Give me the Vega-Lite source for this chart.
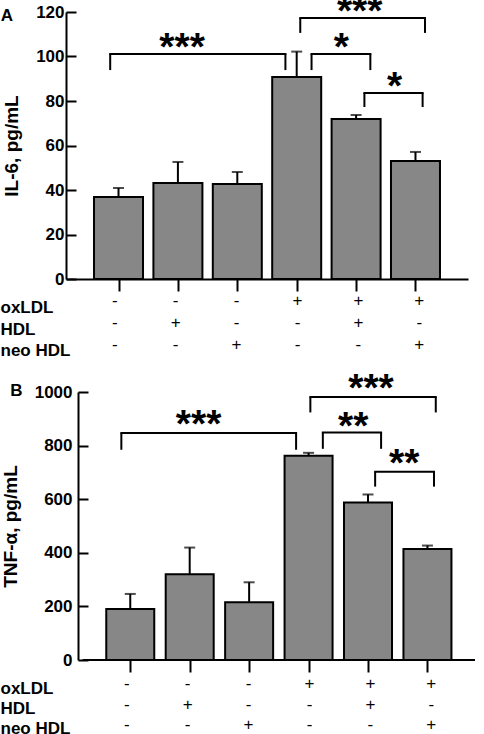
{
  "$schema": "https://vega.github.io/schema/vega-lite/v6.json",
  "padding": {"top": -7, "left": 0, "right": 0, "bottom": 0},
  "background": "white",
  "config": {
    "view": {"stroke": null},
    "font": "Liberation Sans",
    "axis": {"grid": false, "domainColor": "black", "tickColor": "black", "labelColor": "black", "titleColor": "black", "domainWidth": 2, "tickWidth": 2}
  },
  "datasets": {
    "bars": [
      {"panel": "A", "group": 1, "value": 36.9, "upper": 40.9},
      {"panel": "A", "group": 2, "value": 43.1, "upper": 52.6},
      {"panel": "A", "group": 3, "value": 42.7, "upper": 48.1},
      {"panel": "A", "group": 4, "value": 90.8, "upper": 102.2},
      {"panel": "A", "group": 5, "value": 71.9, "upper": 73.7},
      {"panel": "A", "group": 6, "value": 53.0, "upper": 57.1},
      {"panel": "B", "group": 1, "value": 190.5, "upper": 246.5},
      {"panel": "B", "group": 2, "value": 320, "upper": 419.5},
      {"panel": "B", "group": 3, "value": 215.5, "upper": 290},
      {"panel": "B", "group": 4, "value": 762, "upper": 773},
      {"panel": "B", "group": 5, "value": 587.6, "upper": 617.6},
      {"panel": "B", "group": 6, "value": 414.6, "upper": 427}
    ],
    "brackets": [
      {"panel": "A", "x1": 0.86, "x2": 3.81, "ytop": 101.1, "ybot": 93.9, "stars": "***", "lx": 2.07, "ly": 106},
      {"panel": "A", "x1": 4.06, "x2": 6.16, "ytop": 117.3, "ybot": 110.6, "stars": "***", "lx": 5.06, "ly": 122.2},
      {"panel": "A", "x1": 4.25, "x2": 5.24, "ytop": 101.1, "ybot": 93.9, "stars": "*", "lx": 4.75, "ly": 106},
      {"panel": "A", "x1": 5.14, "x2": 6.12, "ytop": 83.6, "ybot": 77.3, "stars": "*", "lx": 5.65, "ly": 88.6},
      {"panel": "B", "x1": 0.85, "x2": 3.79, "ytop": 846.8, "ybot": 784.5, "stars": "***", "lx": 2.15, "ly": 896.5},
      {"panel": "B", "x1": 4.03, "x2": 6.14, "ytop": 981, "ybot": 923.8, "stars": "***", "lx": 5.05, "ly": 1031},
      {"panel": "B", "x1": 4.24, "x2": 5.22, "ytop": 849, "ybot": 788, "stars": "**", "lx": 4.75, "ly": 888},
      {"panel": "B", "x1": 5.12, "x2": 6.11, "ytop": 702, "ybot": 647, "stars": "**", "lx": 5.61, "ly": 750.8}
    ],
    "signs": [
      {"group": 1, "factor": "oxLDL", "sign": "-"},
      {"group": 1, "factor": "HDL", "sign": "-"},
      {"group": 1, "factor": "neo HDL", "sign": "-"},
      {"group": 2, "factor": "oxLDL", "sign": "-"},
      {"group": 2, "factor": "HDL", "sign": "+"},
      {"group": 2, "factor": "neo HDL", "sign": "-"},
      {"group": 3, "factor": "oxLDL", "sign": "-"},
      {"group": 3, "factor": "HDL", "sign": "-"},
      {"group": 3, "factor": "neo HDL", "sign": "+"},
      {"group": 4, "factor": "oxLDL", "sign": "+"},
      {"group": 4, "factor": "HDL", "sign": "-"},
      {"group": 4, "factor": "neo HDL", "sign": "-"},
      {"group": 5, "factor": "oxLDL", "sign": "+"},
      {"group": 5, "factor": "HDL", "sign": "+"},
      {"group": 5, "factor": "neo HDL", "sign": "-"},
      {"group": 6, "factor": "oxLDL", "sign": "+"},
      {"group": 6, "factor": "HDL", "sign": "-"},
      {"group": 6, "factor": "neo HDL", "sign": "+"}
    ]
  },
  "concat": [
    {
      "spacing": 0,
      "vconcat": [
        {
          "width": 402,
          "height": 267,
          "title": {"text": "A", "anchor": "start", "frame": "bounds", "fontSize": 17, "fontWeight": "bold", "dy": 32, "dx": -2, "offset": 0},
          "layer": [
            {
              "data": {"name": "bars"},
              "transform": [{"filter": "datum.panel === 'A'"}],
              "mark": {"type": "bar", "width": 49, "fill": "#878787", "stroke": "black", "strokeWidth": 2},
              "encoding": {
                "x": {"field": "group", "type": "quantitative", "scale": {"domain": [0.2, 6.8], "nice": false, "zero": false},
                      "axis": {"values": [1, 2, 3, 4, 5, 6], "labels": false, "tickSize": 12, "title": null}},
                "y": {"field": "value", "type": "quantitative", "scale": {"domain": [0, 120], "nice": false},
                      "axis": {"values": [0, 20, 40, 60, 80, 100, 120], "tickSize": -10, "labelPadding": 12, "labelFontSize": 17, "labelFontWeight": "bold", "title": "IL-6, pg/mL", "titleFontSize": 19, "titleFontWeight": "bold", "titlePadding": 14}}
              }
            },
            {
              "data": {"name": "bars"},
              "transform": [{"filter": "datum.panel === 'A'"}],
              "mark": {"type": "rule", "color": "black", "strokeWidth": 2},
              "encoding": {
                "x": {"field": "group", "type": "quantitative", "scale": {"domain": [0.2, 6.8], "nice": false, "zero": false}},
                "y": {"field": "value", "type": "quantitative", "scale": {"domain": [0, 120], "nice": false}},
                "y2": {"field": "upper"}
              }
            },
            {
              "data": {"name": "bars"},
              "transform": [{"filter": "datum.panel === 'A'"}],
              "mark": {"type": "tick", "orient": "horizontal", "color": "black", "size": 11, "thickness": 2},
              "encoding": {
                "x": {"field": "group", "type": "quantitative", "scale": {"domain": [0.2, 6.8], "nice": false, "zero": false}},
                "y": {"field": "upper", "type": "quantitative", "scale": {"domain": [0, 120], "nice": false}}
              }
            },
            {
              "data": {"name": "brackets"},
              "transform": [{"filter": "datum.panel === 'A'"}],
              "mark": {"type": "rule", "color": "black", "strokeWidth": 2, "strokeCap": "square"},
              "encoding": {
                "x": {"field": "x1", "type": "quantitative", "scale": {"domain": [0.2, 6.8], "nice": false, "zero": false}},
                "x2": {"field": "x2"},
                "y": {"field": "ytop", "type": "quantitative", "scale": {"domain": [0, 120], "nice": false}}
              }
            },
            {
              "data": {"name": "brackets"},
              "transform": [{"filter": "datum.panel === 'A'"}],
              "mark": {"type": "rule", "color": "black", "strokeWidth": 2},
              "encoding": {
                "x": {"field": "x1", "type": "quantitative", "scale": {"domain": [0.2, 6.8], "nice": false, "zero": false}},
                "y": {"field": "ytop", "type": "quantitative", "scale": {"domain": [0, 120], "nice": false}},
                "y2": {"field": "ybot"}
              }
            },
            {
              "data": {"name": "brackets"},
              "transform": [{"filter": "datum.panel === 'A'"}],
              "mark": {"type": "rule", "color": "black", "strokeWidth": 2},
              "encoding": {
                "x": {"field": "x2", "type": "quantitative", "scale": {"domain": [0.2, 6.8], "nice": false, "zero": false}},
                "y": {"field": "ytop", "type": "quantitative", "scale": {"domain": [0, 120], "nice": false}},
                "y2": {"field": "ybot"}
              }
            },
            {
              "data": {"name": "brackets"},
              "transform": [{"filter": "datum.panel === 'A'"}],
              "mark": {"type": "text", "fontSize": 39, "fontWeight": "bold", "baseline": "alphabetic", "dy": 17, "color": "black"},
              "encoding": {
                "x": {"field": "lx", "type": "quantitative", "scale": {"domain": [0.2, 6.8], "nice": false, "zero": false}},
                "y": {"field": "ly", "type": "quantitative", "scale": {"domain": [0, 120], "nice": false}},
                "text": {"field": "stars"}
              }
            }
          ]
        },
        {
          "width": 402,
          "height": 62,
          "data": {"name": "signs"},
          "mark": {"type": "text", "fontSize": 17, "baseline": "middle", "color": "black"},
          "encoding": {
            "x": {"field": "group", "type": "quantitative", "scale": {"domain": [0.2, 6.8], "nice": false, "zero": false}, "axis": null},
            "y": {"field": "factor", "type": "nominal", "sort": ["oxLDL", "HDL", "neo HDL"], "scale": {"padding": 0.41},
                  "axis": {"title": null, "domain": false, "ticks": false, "labelAlign": "left", "labelPadding": 66, "labelFontSize": 17, "labelFontWeight": "bold", "labelOffset": 6}},
            "text": {"field": "sign"}
          }
        }
      ]
    },
    {
      "spacing": 0,
      "vconcat": [
        {
          "width": 414,
          "height": 268,
          "title": {"text": "B", "anchor": "start", "frame": "bounds", "fontSize": 17, "fontWeight": "bold", "dy": 30, "dx": 9, "offset": 0},
          "layer": [
            {
              "data": {"name": "bars"},
              "transform": [{"filter": "datum.panel === 'B'"}],
              "mark": {"type": "bar", "width": 48, "fill": "#878787", "stroke": "black", "strokeWidth": 2},
              "encoding": {
                "x": {"field": "group", "type": "quantitative", "scale": {"domain": [0.003, 6.8], "nice": false, "zero": false},
                      "axis": {"values": [1, 2, 3, 4, 5, 6], "labels": false, "domain": false, "tickSize": 12, "title": null}},
                "y": {"field": "value", "type": "quantitative", "scale": {"domain": [0, 1000], "nice": false},
                      "axis": {"values": [0, 200, 400, 600, 800, 1000], "format": "d", "offset": -12, "tickSize": -10, "labelPadding": 16, "labelFontSize": 17, "labelFontWeight": "bold", "title": "TNF-α, pg/mL", "titleFontSize": 19, "titleFontWeight": "bold", "titlePadding": 14}}
              }
            },
            {
              "data": {"values": [{}]},
              "mark": {"type": "rule", "color": "black", "strokeWidth": 2},
              "encoding": {
                "x": {"datum": 0.2, "type": "quantitative", "scale": {"domain": [0.003, 6.8], "nice": false, "zero": false}},
                "x2": {"datum": 6.8},
                "y": {"datum": 0, "type": "quantitative", "scale": {"domain": [0, 1000], "nice": false}}
              }
            },
            {
              "data": {"name": "bars"},
              "transform": [{"filter": "datum.panel === 'B'"}],
              "mark": {"type": "rule", "color": "black", "strokeWidth": 2},
              "encoding": {
                "x": {"field": "group", "type": "quantitative", "scale": {"domain": [0.003, 6.8], "nice": false, "zero": false}},
                "y": {"field": "value", "type": "quantitative", "scale": {"domain": [0, 1000], "nice": false}},
                "y2": {"field": "upper"}
              }
            },
            {
              "data": {"name": "bars"},
              "transform": [{"filter": "datum.panel === 'B'"}],
              "mark": {"type": "tick", "orient": "horizontal", "color": "black", "size": 11, "thickness": 2},
              "encoding": {
                "x": {"field": "group", "type": "quantitative", "scale": {"domain": [0.003, 6.8], "nice": false, "zero": false}},
                "y": {"field": "upper", "type": "quantitative", "scale": {"domain": [0, 1000], "nice": false}}
              }
            },
            {
              "data": {"name": "brackets"},
              "transform": [{"filter": "datum.panel === 'B'"}],
              "mark": {"type": "rule", "color": "black", "strokeWidth": 2, "strokeCap": "square"},
              "encoding": {
                "x": {"field": "x1", "type": "quantitative", "scale": {"domain": [0.003, 6.8], "nice": false, "zero": false}},
                "x2": {"field": "x2"},
                "y": {"field": "ytop", "type": "quantitative", "scale": {"domain": [0, 1000], "nice": false}}
              }
            },
            {
              "data": {"name": "brackets"},
              "transform": [{"filter": "datum.panel === 'B'"}],
              "mark": {"type": "rule", "color": "black", "strokeWidth": 2},
              "encoding": {
                "x": {"field": "x1", "type": "quantitative", "scale": {"domain": [0.003, 6.8], "nice": false, "zero": false}},
                "y": {"field": "ytop", "type": "quantitative", "scale": {"domain": [0, 1000], "nice": false}},
                "y2": {"field": "ybot"}
              }
            },
            {
              "data": {"name": "brackets"},
              "transform": [{"filter": "datum.panel === 'B'"}],
              "mark": {"type": "rule", "color": "black", "strokeWidth": 2},
              "encoding": {
                "x": {"field": "x2", "type": "quantitative", "scale": {"domain": [0.003, 6.8], "nice": false, "zero": false}},
                "y": {"field": "ytop", "type": "quantitative", "scale": {"domain": [0, 1000], "nice": false}},
                "y2": {"field": "ybot"}
              }
            },
            {
              "data": {"name": "brackets"},
              "transform": [{"filter": "datum.panel === 'B'"}],
              "mark": {"type": "text", "fontSize": 39, "fontWeight": "bold", "baseline": "alphabetic", "dy": 17, "color": "black"},
              "encoding": {
                "x": {"field": "lx", "type": "quantitative", "scale": {"domain": [0.003, 6.8], "nice": false, "zero": false}},
                "y": {"field": "ly", "type": "quantitative", "scale": {"domain": [0, 1000], "nice": false}},
                "text": {"field": "stars"}
              }
            }
          ]
        },
        {
          "width": 414,
          "height": 63,
          "data": {"name": "signs"},
          "mark": {"type": "text", "fontSize": 17, "baseline": "middle", "color": "black"},
          "encoding": {
            "x": {"field": "group", "type": "quantitative", "scale": {"domain": [0.003, 6.8], "nice": false, "zero": false}, "axis": null},
            "y": {"field": "factor", "type": "nominal", "sort": ["oxLDL", "HDL", "neo HDL"], "scale": {"padding": 0.54},
                  "axis": {"title": null, "domain": false, "ticks": false, "labelAlign": "left", "labelPadding": 66, "labelFontSize": 17, "labelFontWeight": "bold", "labelOffset": 4}},
            "text": {"field": "sign"}
          }
        }
      ]
    }
  ],
  "columns": 1,
  "align": "none",
  "spacing": 10
}
